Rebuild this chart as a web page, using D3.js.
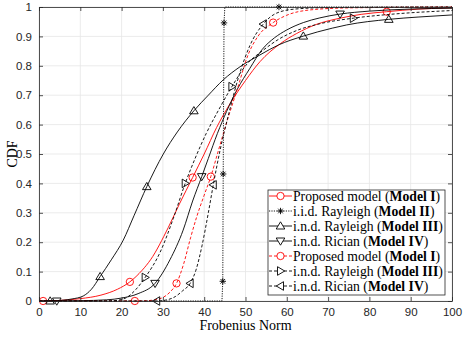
<!DOCTYPE html>
<html>
<head>
<meta charset="utf-8">
<script src="https://cdn.jsdelivr.net/npm/d3@7"></script>
<style>
body { margin: 0; background: #fff; }
text { font-family: "Liberation Sans", Arial, sans-serif; fill: #262626; }
.serif { font-family: "Liberation Serif", "Times New Roman", serif; fill: #000; }
</style>
</head>
<body>
<div id="chart"></div>
<script>
// Curves: [Frobenius norm, CDF]
var model1Solid = [[0,0],[1,0],[5,0.002],[10,0.008],[15,0.02],[19,0.04],[22,0.065],[25,0.105],[27,0.14],[31.3,0.25],[34,0.33],[37.2,0.42],[40,0.5],[43,0.59],[46.3,0.672],[50,0.75],[53.5,0.814],[58.4,0.875],[62.4,0.91],[67,0.94],[72.9,0.962],[78,0.975],[84.2,0.984],[92,0.993],[100,0.997]];
var model1SolidMarks = [1, 6, 11, 22];

var model2 = [[0,0],[44.3,0],[44.5,0.067],[44.6,0.432],[44.8,0.946],[45,1],[58.1,1],[100,1]];
var model2Marks = [2, 3, 4, 6];

var model3Solid = [[0,0],[2.7,0],[6,0.003],[8,0.007],[10.7,0.017],[12.7,0.04],[14.8,0.083],[17.5,0.14],[20.4,0.207],[23,0.29],[26.1,0.389],[30.1,0.5],[33.5,0.575],[37.5,0.647],[41,0.7],[44.6,0.752],[48.7,0.797],[53.5,0.837],[58,0.871],[64,0.901],[71,0.928],[74.5,0.939],[84.7,0.958],[92,0.966],[100,0.973]];
var model3SolidMarks = [1, 6, 10, 13, 19, 22];

var model4Solid = [[0,0],[4.3,0],[10,0.001],[16.4,0.004],[20,0.01],[24,0.025],[28.1,0.06],[31.7,0.14],[34.9,0.241],[37.2,0.34],[39.4,0.423],[41,0.485],[43.2,0.57],[45.4,0.644],[48,0.72],[51,0.79],[54,0.855],[57,0.895],[60,0.922],[64,0.947],[68,0.963],[72.9,0.976],[80,0.986],[90,0.993],[100,0.996]];
var model4SolidMarks = [1, 6, 10, 21];

var model1Dashed = [[0,0],[23.2,0],[26,0.001],[28,0.004],[30,0.012],[31.7,0.03],[33.3,0.06],[35,0.125],[36.7,0.215],[38.2,0.287],[40,0.36],[41.6,0.423],[43.4,0.51],[45.5,0.61],[48,0.72],[50.7,0.84],[53,0.9],[56.7,0.947],[60,0.972],[65.6,0.99],[75,0.997],[100,1]];
var model1DashedMarks = [1, 6, 11, 17];

var model3Dashed = [[0,0],[17,0],[19.2,0.003],[21,0.01],[23.5,0.04],[25.7,0.08],[29.3,0.165],[32.5,0.28],[35.4,0.4],[37.8,0.485],[40.5,0.57],[43.5,0.65],[46.7,0.729],[50,0.8],[54.2,0.852],[58,0.89],[62.4,0.92],[68,0.943],[76.1,0.962],[85,0.975],[100,0.988]];
var model3DashedMarks = [5, 8, 12, 18];

var model4Dashed = [[0,0],[28.5,0],[31,0.004],[33,0.015],[34.8,0.035],[36.6,0.06],[38,0.105],[39.5,0.19],[41,0.3],[42.2,0.395],[43.8,0.51],[46,0.64],[48.5,0.77],[51.1,0.87],[54.3,0.942],[57.5,0.979],[62,0.993],[70,0.998],[100,1]];
var model4DashedMarks = [1, 5, 9, 14];

var xTicks = [0, 10, 20, 30, 40, 50, 60, 70, 80, 90, 100];
var yTicks = [0, 0.1, 0.2, 0.3, 0.4, 0.5, 0.6, 0.7, 0.8, 0.9, 1];

var legendNames = [
  ["Proposed model (", "Model I", ")"],
  ["i.i.d. Rayleigh (", "Model II", ")"],
  ["i.n.d. Rayleigh (", "Model III", ")"],
  ["i.n.d. Rician (", "Model IV", ")"],
  ["Proposed model (", "Model I", ")"],
  ["i.n.d. Rayleigh (", "Model III", ")"],
  ["i.n.d. Rician (", "Model IV", ")"]
];

var series = [
  {data: model1Solid, marks: model1SolidMarks, color: "#ff0000", dash: null, marker: "circle", smooth: true},
  {data: model2, marks: model2Marks, color: "#000", dash: "1.2,1.2", marker: "star", smooth: false},
  {data: model3Solid, marks: model3SolidMarks, color: "#000", dash: null, marker: "up", smooth: true},
  {data: model4Solid, marks: model4SolidMarks, color: "#000", dash: null, marker: "down", smooth: true},
  {data: model1Dashed, marks: model1DashedMarks, color: "#ff0000", dash: "3,2", marker: "circle", smooth: true},
  {data: model3Dashed, marks: model3DashedMarks, color: "#000", dash: "3,2", marker: "right", smooth: true},
  {data: model4Dashed, marks: model4DashedMarks, color: "#000", dash: "3,2", marker: "left", smooth: true}
];

var svgWidth = 463;
var svgHeight = 337;
var margin = {top: 7, right: 11, bottom: 36, left: 39};
var width = svgWidth - margin.left - margin.right;
var height = svgHeight - margin.top - margin.bottom;

var svg = d3.select("#chart").append("svg")
  .attr("width", svgWidth)
  .attr("height", svgHeight);

var chart = svg.append("g")
  .attr("transform", `translate(${margin.left}, ${margin.top})`);

var x = d3.scaleLinear().domain([0, 100]).range([0, width]);
var y = d3.scaleLinear().domain([0, 1]).range([height, 0]);

// grid
chart.append("g")
  .selectAll("line.gx").data(xTicks).enter().append("line")
  .attr("x1", d => x(d)).attr("x2", d => x(d))
  .attr("y1", 0).attr("y2", height)
  .attr("stroke", "#e6e6e6").attr("stroke-width", 0.8);
chart.append("g")
  .selectAll("line.gy").data(yTicks).enter().append("line")
  .attr("x1", 0).attr("x2", width)
  .attr("y1", d => y(d)).attr("y2", d => y(d))
  .attr("stroke", "#e6e6e6").attr("stroke-width", 0.8);

// marker shapes
function markerPath(type) {
  if (type === "circle") return d3.symbol().type(d3.symbolCircle).size(42)();
  if (type === "star") return "M0,-3.2V3.2M-3.2,0H3.2M-2.3,-2.3L2.3,2.3M-2.3,2.3L2.3,-2.3";
  if (type === "up") return "M0,-4.2L4.3,3L-4.3,3Z";
  if (type === "down") return "M0,4.2L4.3,-3L-4.3,-3Z";
  if (type === "right") return "M4.2,0L-3,4.3L-3,-4.3Z";
  if (type === "left") return "M-4.2,0L3,4.3L3,-4.3Z";
}

var plot = chart.append("g");
series.forEach(function(s) {
  var line = d3.line()
    .x(d => x(d[0]))
    .y(d => y(d[1]))
    .curve(s.smooth ? d3.curveMonotoneX : d3.curveLinear);
  plot.append("path")
    .datum(s.data)
    .attr("d", line)
    .attr("fill", "none")
    .attr("stroke", s.color)
    .attr("stroke-width", 0.9)
    .attr("stroke-dasharray", s.dash);
  plot.selectAll(null)
    .data(s.marks.map(i => s.data[i]))
    .enter().append("path")
    .attr("transform", d => `translate(${x(d[0])},${y(d[1])})`)
    .attr("d", markerPath(s.marker))
    .attr("fill", "none")
    .attr("stroke", s.color)
    .attr("stroke-width", 0.9);
});

// axes with inward ticks on all sides
var bottomAxis = d3.axisBottom(x).tickValues(xTicks).tickSizeInner(-4).tickSizeOuter(0).tickPadding(7);
var leftAxis = d3.axisLeft(y).tickValues(yTicks).tickSizeInner(-4).tickSizeOuter(0).tickPadding(7).tickFormat(d3.format("~g"));
var topAxis = d3.axisTop(x).tickValues(xTicks).tickSizeInner(-4).tickSizeOuter(0).tickFormat("");
var rightAxis = d3.axisRight(y).tickValues(yTicks).tickSizeInner(-4).tickSizeOuter(0).tickFormat("");

var gB = chart.append("g").attr("transform", `translate(0, ${height})`).call(bottomAxis);
var gL = chart.append("g").call(leftAxis);
var gT = chart.append("g").call(topAxis);
var gR = chart.append("g").attr("transform", `translate(${width}, 0)`).call(rightAxis);
[gB, gL, gT, gR].forEach(function(g) {
  g.selectAll("path").attr("stroke", "#262626").attr("stroke-width", 0.8);
  g.selectAll("line").attr("stroke", "#262626").attr("stroke-width", 0.8);
  g.selectAll("text").style("font-size", "11.5px").attr("fill", "#262626")
    .style("font-family", '"Liberation Sans", Arial, sans-serif');
});

// axis labels
chart.append("text")
  .attr("class", "serif")
  .attr("x", width / 2)
  .attr("y", height + 29)
  .attr("text-anchor", "middle")
  .style("font-size", "14px")
  .text("Frobenius Norm");

chart.append("text")
  .attr("class", "serif")
  .attr("transform", "rotate(-90)")
  .attr("x", -height / 2)
  .attr("y", -margin.left + 17)
  .attr("text-anchor", "middle")
  .style("font-size", "14px")
  .text("CDF");

// legend
var leg = svg.append("g").attr("transform", "translate(268, 190)");
leg.append("rect")
  .attr("width", 177).attr("height", 105)
  .attr("fill", "#fff").attr("stroke", "#262626").attr("stroke-width", 0.8);

series.forEach(function(s, i) {
  var row = leg.append("g").attr("transform", `translate(0, ${6 + i * 15})`);
  row.append("line")
    .attr("x1", 1).attr("x2", 24).attr("y1", 0).attr("y2", 0)
    .attr("stroke", s.color).attr("stroke-width", 0.9)
    .attr("stroke-dasharray", s.dash);
  row.append("path")
    .attr("transform", "translate(12.5,0)")
    .attr("d", markerPath(s.marker))
    .attr("fill", "#fff")
    .attr("stroke", s.color).attr("stroke-width", 0.9);
  var t = row.append("text")
    .attr("class", "serif")
    .attr("x", 25).attr("y", 4.5)
    .style("font-size", "13.7px");
  t.append("tspan").text(legendNames[i][0]);
  t.append("tspan").attr("font-weight", "bold").text(legendNames[i][1]);
  t.append("tspan").text(legendNames[i][2]);
});
</script>
</body>
</html>
